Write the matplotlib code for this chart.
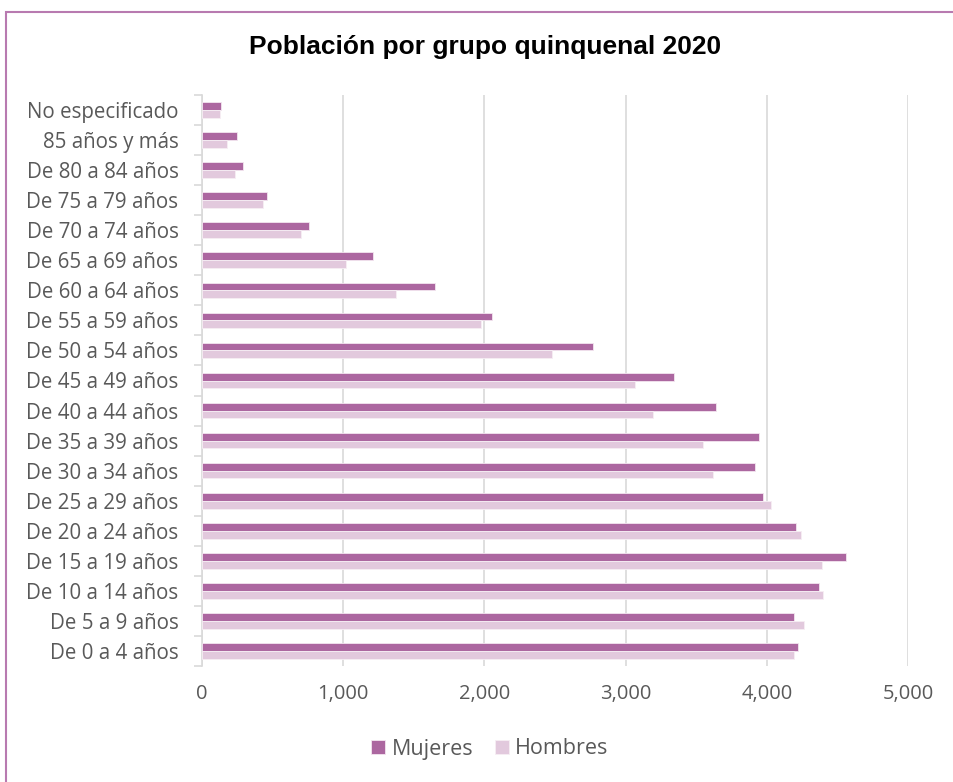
import matplotlib
matplotlib.use('Agg')
import matplotlib.pyplot as plt
from matplotlib.patches import Rectangle
from matplotlib.ticker import FuncFormatter
import numpy as np

# grupos de edad, de abajo hacia arriba
grupos = ['De 0 a 4 años', 'De 5 a 9 años', 'De 10 a 14 años', 'De 15 a 19 años',
          'De 20 a 24 años', 'De 25 a 29 años', 'De 30 a 34 años', 'De 35 a 39 años',
          'De 40 a 44 años', 'De 45 a 49 años', 'De 50 a 54 años', 'De 55 a 59 años',
          'De 60 a 64 años', 'De 65 a 69 años', 'De 70 a 74 años', 'De 75 a 79 años',
          'De 80 a 84 años', '85 años y más', 'No especificado']
mujeres = [4222, 4196, 4367, 4561, 4209, 3971, 3918, 3943, 3640, 3340,
           2768, 2052, 1647, 1213, 758, 462, 291, 249, 135]
hombres = [4190, 4266, 4399, 4393, 4244, 4029, 3617, 3550, 3191, 3066,
           2482, 1973, 1376, 1023, 701, 434, 232, 175, 128]
xticks = [0, 1000, 2000, 3000, 4000, 5000]

c_muj = '#AC67A0'
c_hom = '#E2C9DD'
gris = '#595959'

fig = plt.figure(figsize=(9.54, 7.82), dpi=100)
ax = fig.add_axes([202/954, 1-666/782, 706/954, 571/782])

y = np.arange(len(grupos))
h = 0.26
ax.barh(y + h/2, mujeres, height=h, color=c_muj, edgecolor='#F3E6F0', linewidth=0.6, label='Mujeres', zorder=3)
ax.barh(y - h/2, hombres, height=h, color=c_hom, edgecolor='#F6EEF4', linewidth=0.6, label='Hombres', zorder=3)

ax.set_xlim(0, 5000)
ax.set_ylim(-0.5, len(grupos) - 0.5)
ax.set_xticks(xticks)
ax.xaxis.set_major_formatter(FuncFormatter(lambda v, p: '{:,.0f}'.format(v)))
ax.set_yticks(y)
ax.set_yticklabels(grupos)
ax.set_yticks(np.arange(-0.5, len(grupos), 1), minor=True)

ax.grid(axis='x', color='#D9D9D9', linewidth=1.2, zorder=0)
for s in ['top', 'right', 'bottom']:
    ax.spines[s].set_visible(False)
ax.spines['left'].set_color('#D9D9D9')
ax.spines['left'].set_linewidth(1.2)

ax.tick_params(axis='x', length=0, pad=13, labelsize=14.5, labelcolor=gris)
ax.tick_params(axis='y', which='major', length=0, pad=17, labelsize=14.8, labelcolor=gris)
ax.tick_params(axis='y', which='minor', length=6, width=1.2, color='#D9D9D9')
for t in ax.get_xticklabels() + ax.get_yticklabels():
    t.set_fontfamily('Open Sans')

fig.text(0.508, 1-47/782, 'Población por grupo quinquenal 2020', ha='center', va='center',
         fontsize=19, fontweight='bold', family='Liberation Sans', color='black')

leg = fig.legend(loc='center', bbox_to_anchor=(490/954, 1-749/782), ncol=2, frameon=False,
                 prop={'family': 'Open Sans', 'size': 15.5}, handlelength=0.65, handleheight=0.65,
                 handletextpad=0.3, columnspacing=1.0)
for t in leg.get_texts():
    t.set_color(gris)

# marco del gráfico
fig.patches.append(Rectangle((6/954, -0.05), 1.0, 1 - 12/782 + 0.05, transform=fig.transFigure,
                             fill=False, edgecolor='#B87AB0', linewidth=1.5))

fig.savefig('out.png', dpi=100)
